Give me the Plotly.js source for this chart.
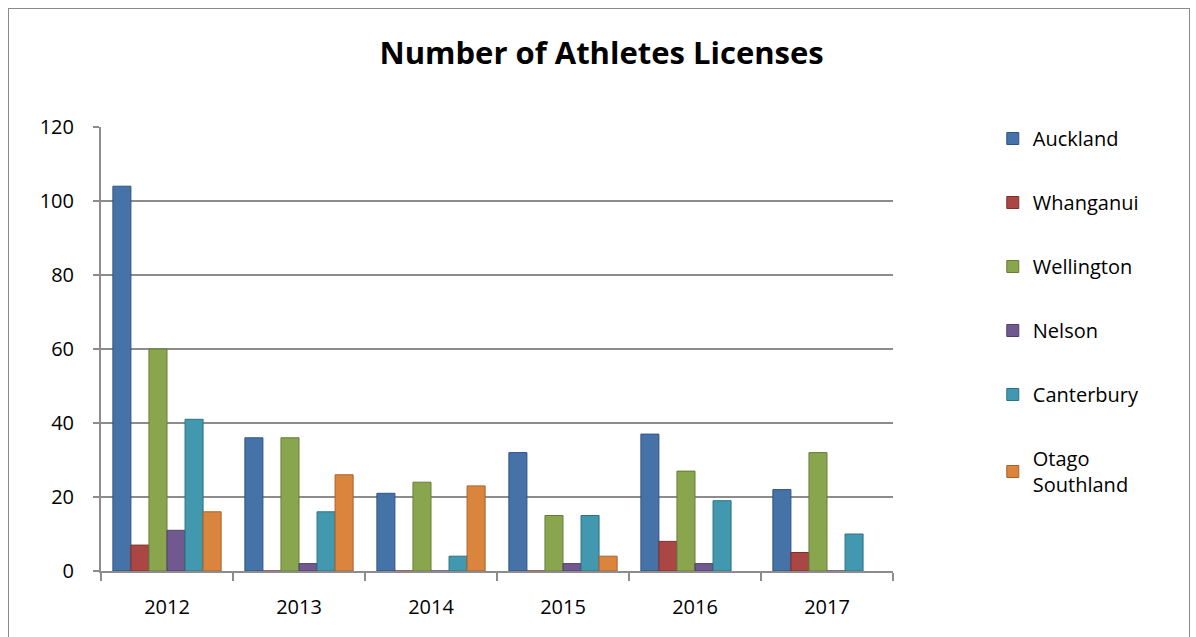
<!DOCTYPE html>
<html>
<head>
<meta charset="utf-8">
<script src="https://cdn.plot.ly/plotly-3.0.1.min.js"></script>
<style>
html,body{margin:0;padding:0;background:#fff;overflow:hidden;}
#chart{width:1196px;height:637px;}
#frame{position:absolute;left:8px;top:8px;width:1180px;height:650px;border:1px solid #8a8a8a;pointer-events:none;}
</style>
</head>
<body>
<div id="chart"></div>
<div id="frame"></div>
<script>
const years = ['2012','2013','2014','2015','2016','2017'];
const auckland   = [104, 36, 21, 32, 37, 22];
const whanganui  = [7, 0, 0, 0, 8, 5];
const wellington = [60, 36, 24, 15, 27, 32];
const nelson     = [11, 2, 0, 2, 2, 0];
const canterbury = [41, 16, 4, 15, 19, 10];
const otago      = [16, 26, 23, 4, null, null];

const seriesNames = ['Auckland','Whanganui','Wellington','Nelson','Canterbury','Otago<br>Southland'];
const seriesData = [auckland, whanganui, wellington, nelson, canterbury, otago];
const colors = ['#4572A7','#AA4643','#89A54E','#71588F','#4198AF','#DB843D'];
const edges  = ['#2f5486','#7f2f2d','#667d37','#513f6a','#2d7285','#a9612a'];

const traces = seriesData.map((d,i)=>({
  type:'bar', x:years, y:d, name:seriesNames[i], legendgroup:'g'+i,
  marker:{color:colors[i], line:{color:edges[i], width:1}},
  hoverinfo:'x+y+name'
}));

const FONT = '"Open Sans", Lato, sans-serif';
const layout = {
  width:1196, height:637,
  margin:{l:101, r:303, t:127, b:66, pad:0},
  paper_bgcolor:'#ffffff', plot_bgcolor:'#ffffff',
  font:{family:FONT, color:'#000', size:20},
  title:{text:'<b>Number of Athletes Licenses</b>', x:0.503, xanchor:'center', y:0.916, yanchor:'middle',
         font:{size:31, family:FONT, color:'#000'}},
  bargap:0.18, bargroupgap:0,
  xaxis:{type:'category', showline:true, linecolor:'#8c8c8c', linewidth:2,
         ticks:'outside', tickson:'boundaries', ticklen:8, tickcolor:'#8c8c8c', tickwidth:2,
         tickfont:{size:20}, showgrid:false, zeroline:false, fixedrange:true, ticklabelstandoff:17},
  yaxis:{range:[0,120], dtick:20, showline:true, linecolor:'#8c8c8c', linewidth:2,
         ticks:'outside', ticklen:6, tickcolor:'#8c8c8c', tickwidth:2,
         showgrid:true, gridcolor:'#8c8c8c', gridwidth:2, zeroline:false,
         tickfont:{size:20}, ticklabelstandoff:15, fixedrange:true},
  legend:{x:1.126, xanchor:'left', y:1.018, yanchor:'top', font:{size:20},
          tracegroupgap:35, maxheight:620, bgcolor:'rgba(0,0,0,0)'},
  showlegend:true
};

Plotly.newPlot('chart', traces, layout, {displayModeBar:false, staticPlot:true});
</script>
</body>
</html>
